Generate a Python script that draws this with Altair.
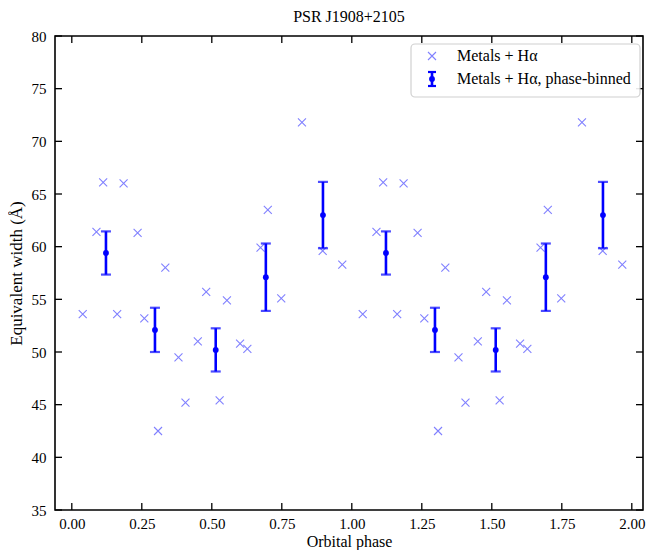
import altair as alt
import pandas as pd

# ---- data ----
phase = [0.039, 0.088, 0.112, 0.162, 0.185, 0.235, 0.259, 0.308, 0.334, 0.381, 0.406, 0.450,
         0.480, 0.528, 0.554, 0.601, 0.627, 0.674, 0.700, 0.748, 0.822, 0.896, 0.966,
         1.039, 1.088, 1.112, 1.162, 1.185, 1.235, 1.259, 1.308, 1.334, 1.381, 1.406, 1.450,
         1.480, 1.528, 1.554, 1.601, 1.627, 1.674, 1.700, 1.748, 1.822, 1.896, 1.966]
ew = [53.6, 61.4, 66.1, 53.6, 66.0, 61.3, 53.2, 42.5, 58.0, 49.5, 45.2, 51.0,
      55.7, 45.4, 54.9, 50.8, 50.3, 59.9, 63.5, 55.1, 71.8, 59.6, 58.3,
      53.6, 61.4, 66.1, 53.6, 66.0, 61.3, 53.2, 42.5, 58.0, 49.5, 45.2, 51.0,
      55.7, 45.4, 54.9, 50.8, 50.3, 59.9, 63.5, 55.1, 71.8, 59.6, 58.3]

bin_phase = [0.122, 0.297, 0.514, 0.693, 0.897, 1.122, 1.297, 1.514, 1.693, 1.897]
bin_ew = [59.4, 52.1, 50.2, 57.1, 63.0, 59.4, 52.1, 50.2, 57.1, 63.0]
bin_err = [2.05, 2.1, 2.05, 3.2, 3.15, 2.05, 2.1, 2.05, 3.2, 3.15]

x_ticks = [0.0, 0.25, 0.5, 0.75, 1.0, 1.25, 1.5, 1.75, 2.0]
y_ticks = [35, 40, 45, 50, 55, 60, 65, 70, 75, 80]

title = "PSR J1908+2105"
x_title = "Orbital phase"
y_title = "Equivalent width (Å)"
legend_labels = ["Metals + Hα", "Metals + Hα, phase-binned"]

# ---- styling ----
FONT = "Liberation Serif"
PL, PT, PR, PB = 47, 28, 3, 40
W, H = 588, 474
TICK = 7
BLUE = "#0000ff"
LIGHT = "#8080ff"
XSHAPE = "M-1,-1L1,1M-1,1L1,-1"

pts = pd.DataFrame({"phase": phase, "ew": ew})
bins = pd.DataFrame({"phase": bin_phase, "ew": bin_ew,
                     "lo": [m - e for m, e in zip(bin_ew, bin_err)],
                     "hi": [m + e for m, e in zip(bin_ew, bin_err)]})
xt = pd.DataFrame({"phase": x_ticks})
yt = pd.DataFrame({"ew": y_ticks})
one = pd.DataFrame({"k": [0]})

xscale = alt.Scale(domain=[-0.06, 2.04], nice=False, zero=False)
yscale = alt.Scale(domain=[35, 80], nice=False, zero=False)

xaxis = alt.Axis(title=x_title, values=x_ticks, format=".2f", ticks=False, tickSize=0,
                 domain=False, grid=False, labelPadding=6, titlePadding=2,
                 labelFont=FONT, titleFont=FONT, labelFontSize=15, titleFontSize=16,
                 titleFontWeight="normal", labelColor="black", titleColor="black")
yaxis = alt.Axis(title=y_title, values=y_ticks, ticks=False, tickSize=0,
                 domain=False, grid=False, labelPadding=9, titlePadding=6,
                 labelFont=FONT, titleFont=FONT, labelFontSize=15, titleFontSize=17,
                 titleFontWeight="normal", labelColor="black", titleColor="black")

X = alt.X("phase:Q", scale=xscale, axis=xaxis)
Y = alt.Y("ew:Q", scale=yscale, axis=yaxis)

crosses = alt.Chart(pts).mark_point(shape=XSHAPE, size=64, filled=False, color=LIGHT,
                                    strokeWidth=1.1, opacity=1).encode(x=X, y=Y)

err_line = alt.Chart(bins).mark_rule(color=BLUE, strokeWidth=2.6).encode(
    x=X, y=alt.Y("lo:Q", scale=yscale, axis=yaxis), y2="hi:Q")
cap_lo = alt.Chart(bins).mark_tick(color=BLUE, orient="horizontal", size=10, thickness=2.2).encode(
    x=X, y=alt.Y("lo:Q", scale=yscale, axis=yaxis))
cap_hi = alt.Chart(bins).mark_tick(color=BLUE, orient="horizontal", size=10, thickness=2.2).encode(
    x=X, y=alt.Y("hi:Q", scale=yscale, axis=yaxis))
means = alt.Chart(bins).mark_point(shape="circle", filled=True, color=BLUE, size=34,
                                   opacity=1).encode(x=X, y=Y)

def xtick(y0, y1):
    return alt.Chart(xt).mark_rule(color="black", strokeWidth=1.3).encode(
        x=X, y=alt.value(y0), y2=alt.value(y1))

def ytick(x0, x1):
    return alt.Chart(yt).mark_rule(color="black", strokeWidth=1.3).encode(
        y=Y, x=alt.value(x0), x2=alt.value(x1))

ticks = [xtick(H, H - TICK), xtick(0, TICK), ytick(0, TICK), ytick(W, W - TICK)]

# ---- legend ----
LX1 = W - 3
LX0, LY0, LY1 = LX1 - 229, 8, 61
SX, TX, R1, R2 = LX0 + 21, LX0 + 46, 20, 43
leg_box = alt.Chart(one).mark_rect(fill="white", stroke="#cccccc", strokeWidth=1.2,
                                   cornerRadius=4, opacity=0.9).encode(
    x=alt.value(LX0), x2=alt.value(LX1), y=alt.value(LY0), y2=alt.value(LY1))
leg_x = alt.Chart(one).mark_point(shape=XSHAPE, size=64, filled=False, color=LIGHT,
                                  strokeWidth=1.1, opacity=1).encode(
    x=alt.value(SX), y=alt.value(R1))
leg_bar = alt.Chart(one).mark_rule(color=BLUE, strokeWidth=2.6).encode(
    x=alt.value(SX), y=alt.value(R2 - 7), y2=alt.value(R2 + 7))
leg_cap1 = alt.Chart(one).mark_rule(color=BLUE, strokeWidth=2.2).encode(
    x=alt.value(SX - 4), x2=alt.value(SX + 4), y=alt.value(R2 - 7))
leg_cap2 = alt.Chart(one).mark_rule(color=BLUE, strokeWidth=2.2).encode(
    x=alt.value(SX - 4), x2=alt.value(SX + 4), y=alt.value(R2 + 7))
leg_dot = alt.Chart(one).mark_point(shape="circle", filled=True, color=BLUE, size=34,
                                    opacity=1).encode(x=alt.value(SX), y=alt.value(R2))
leg_t1 = alt.Chart(one).mark_text(align="left", baseline="middle", font=FONT, fontSize=16,
                                  color="black").encode(
    x=alt.value(TX), y=alt.value(R1), text=alt.value(legend_labels[0]))
leg_t2 = alt.Chart(one).mark_text(align="left", baseline="middle", font=FONT, fontSize=16,
                                  color="black").encode(
    x=alt.value(TX), y=alt.value(R2), text=alt.value(legend_labels[1]))

chart = alt.layer(
    crosses, err_line, cap_lo, cap_hi, means, *ticks,
    leg_box, leg_x, leg_bar, leg_cap1, leg_cap2, leg_dot, leg_t1, leg_t2,
).properties(
    width=W, height=H,
    title=alt.TitleParams(title, font=FONT, fontSize=16, fontWeight="normal",
                          color="black", anchor="middle", offset=4),
    autosize=alt.AutoSizeParams(type="none"),
    padding={"left": PL, "top": PT, "right": PR, "bottom": PB},
).configure_view(stroke="black", strokeWidth=1.6)

chart.save("out.html", embed_options={"renderer": "svg", "actions": False})
